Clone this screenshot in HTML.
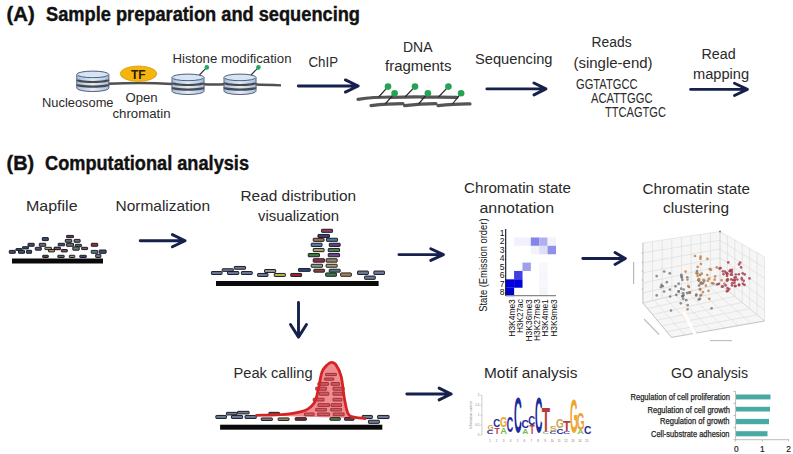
<!DOCTYPE html>
<html><head><meta charset="utf-8">
<style>
html,body{margin:0;padding:0;background:#fff;width:793px;height:454px;overflow:hidden}
svg{display:block}
svg{fill:#262626} text{font-family:"Liberation Sans",sans-serif}
.t{font-size:14.5px}
.b{font-weight:bold}
</style></head><body>
<svg width="793" height="454" viewBox="0 0 793 454">
<defs>
 <linearGradient id="dg" x1="0" x2="1" y1="0" y2="0">
  <stop offset="0" stop-color="#a6c0e0"/><stop offset="0.5" stop-color="#e2ecf8"/><stop offset="1" stop-color="#a6c0e0"/>
 </linearGradient>
 <g id="disk">
  <path d="M0,3.4 L0,17.2 A16,3.3 0 0 0 32,17.2 L32,3.4" fill="url(#dg)" stroke="#50607a" stroke-width="1"/>
  <ellipse cx="16" cy="3.4" rx="16" ry="3.3" fill="#d6e4f5" stroke="#50607a" stroke-width="1"/>
  <path d="M0.3,8.8 A15.7,2.2 0 0 0 31.7,8.8" fill="none" stroke="#4a4a4e" stroke-width="2.2"/>
  <path d="M0.3,13.4 A15.7,2.2 0 0 0 31.7,13.4" fill="none" stroke="#4a4a4e" stroke-width="2.2"/>
 </g>
 <g id="arr"><path d="M0,0 H58" stroke="#1b2a55" stroke-width="3" fill="none"/><path d="M45,-8 L60,0 L45,8" stroke="#1b2a55" stroke-width="3" fill="none"/></g>
</defs>

<text x="6.5" y="20.7" font-size="19.6" textLength="28.16" lengthAdjust="spacingAndGlyphs" class="b" fill="#111" stroke="#111" stroke-width="0.4">(A)</text>
<text x="46.0" y="20.7" font-size="19.6" textLength="314.01" lengthAdjust="spacingAndGlyphs" class="b" fill="#111" stroke="#111" stroke-width="0.4">Sample preparation and sequencing</text>
<text x="6.5" y="169.7" font-size="19.6" textLength="27.65" lengthAdjust="spacingAndGlyphs" class="b" fill="#111" stroke="#111" stroke-width="0.4">(B)</text>
<text x="45.0" y="169.7" font-size="19.6" textLength="204.01" lengthAdjust="spacingAndGlyphs" class="b" fill="#111" stroke="#111" stroke-width="0.4">Computational analysis</text>
<text x="42.0" y="107.1" font-size="12.6" textLength="71.52" lengthAdjust="spacingAndGlyphs" fill="#2a2a2a" >Nucleosome</text>
<text x="125.5" y="102.1" font-size="12.6" textLength="32.14" lengthAdjust="spacingAndGlyphs" fill="#2a2a2a" >Open</text>
<text x="112.5" y="118.4" font-size="12.6" textLength="58.03" lengthAdjust="spacingAndGlyphs" fill="#2a2a2a" >chromatin</text>
<text x="172.5" y="62.5" font-size="12.6" textLength="119.02" lengthAdjust="spacingAndGlyphs" fill="#2a2a2a" >Histone modification</text>
<text x="308.5" y="67.2" font-size="13.8" textLength="29.59" lengthAdjust="spacingAndGlyphs" fill="#2a2a2a" >ChIP</text>
<text x="403.0" y="51.8" font-size="13.8" textLength="29.53" lengthAdjust="spacingAndGlyphs" fill="#2a2a2a" >DNA</text>
<text x="385.0" y="71.2" font-size="13.8" textLength="66.52" lengthAdjust="spacingAndGlyphs" fill="#2a2a2a" >fragments</text>
<text x="475.0" y="63.5" font-size="13.8" textLength="77.55" lengthAdjust="spacingAndGlyphs" fill="#2a2a2a" >Sequencing</text>
<text x="591.5" y="47.2" font-size="13.8" textLength="40.07" lengthAdjust="spacingAndGlyphs" fill="#2a2a2a" >Reads</text>
<text x="573.5" y="68.1" font-size="13.8" textLength="79.05" lengthAdjust="spacingAndGlyphs" fill="#2a2a2a" >(single-end)</text>
<text x="576.0" y="88.5" font-size="13.8" textLength="61.52" lengthAdjust="spacingAndGlyphs" fill="#2a2a2a" >GGTATGCC</text>
<text x="591.0" y="102.5" font-size="13.8" textLength="61.51" lengthAdjust="spacingAndGlyphs" fill="#2a2a2a" >ACATTGGC</text>
<text x="605.0" y="116.5" font-size="13.8" textLength="61.02" lengthAdjust="spacingAndGlyphs" fill="#2a2a2a" >TTCAGTGC</text>
<text x="701.5" y="59" font-size="13.8" textLength="34.13" lengthAdjust="spacingAndGlyphs" fill="#2a2a2a" >Read</text>
<text x="693.0" y="78.7" font-size="13.8" textLength="56.05" lengthAdjust="spacingAndGlyphs" fill="#2a2a2a" >mapping</text>
<text x="26.0" y="211.4" font-size="13.8" textLength="51.56" lengthAdjust="spacingAndGlyphs" fill="#2a2a2a" >Mapfile</text>
<text x="115.5" y="211.4" font-size="13.8" textLength="94.53" lengthAdjust="spacingAndGlyphs" fill="#2a2a2a" >Normalization</text>
<text x="240.5" y="201.3" font-size="13.8" textLength="115.55" lengthAdjust="spacingAndGlyphs" fill="#2a2a2a" >Read distribution</text>
<text x="258.0" y="220.9" font-size="13.8" textLength="81.0" lengthAdjust="spacingAndGlyphs" fill="#2a2a2a" >visualization</text>
<text x="464.0" y="193.4" font-size="13.8" textLength="107.01" lengthAdjust="spacingAndGlyphs" fill="#2a2a2a" >Chromatin state</text>
<text x="479.5" y="212.8" font-size="13.8" textLength="74.53" lengthAdjust="spacingAndGlyphs" fill="#2a2a2a" >annotation</text>
<text x="642.5" y="193.7" font-size="13.8" textLength="107.52" lengthAdjust="spacingAndGlyphs" fill="#2a2a2a" >Chromatin state</text>
<text x="663.0" y="212.8" font-size="13.8" textLength="66.04" lengthAdjust="spacingAndGlyphs" fill="#2a2a2a" >clustering</text>
<text x="233.5" y="378.4" font-size="13.8" textLength="79.05" lengthAdjust="spacingAndGlyphs" fill="#2a2a2a" >Peak calling</text>
<text x="484.0" y="378.3" font-size="13.8" textLength="93.52" lengthAdjust="spacingAndGlyphs" fill="#2a2a2a" >Motif analysis</text>
<text x="671.0" y="377.7" font-size="13.8" textLength="77.03" lengthAdjust="spacingAndGlyphs" fill="#2a2a2a" >GO analysis</text>
<text x="630.5" y="400.1" font-size="8.8" textLength="99.52" lengthAdjust="spacingAndGlyphs" fill="#222" stroke="#222" stroke-width="0.25">Regulation of cell proliferation</text>
<text x="647.5" y="412.6" font-size="8.8" textLength="82.51" lengthAdjust="spacingAndGlyphs" fill="#222" stroke="#222" stroke-width="0.25">Regulation of cell growth</text>
<text x="660.0" y="424.4" font-size="8.8" textLength="69.53" lengthAdjust="spacingAndGlyphs" fill="#222" stroke="#222" stroke-width="0.25">Regulation of growth</text>
<text x="651.0" y="436.6" font-size="8.8" textLength="78.51" lengthAdjust="spacingAndGlyphs" fill="#222" stroke="#222" stroke-width="0.25">Cell-substrate adhesion</text>
<path d="M108,83.8 C125,83 150,82.6 172,84 M203,84.3 C212,84.6 218,84.6 224,84.3 M256,84.5 C265,84.7 272,85 281,85.4" stroke="#505050" stroke-width="2.4" fill="none"/>
<use href="#disk" x="76.8" y="71"/>
<use href="#disk" x="172" y="74"/>
<use href="#disk" x="224" y="74"/>
<ellipse cx="138.5" cy="73.7" rx="18.3" ry="7.7" fill="#f5b50e" stroke="#d49a10" stroke-width="0.8"/>
<text x="138.3" y="78.6" font-size="12" text-anchor="middle" class="b" fill="#2a1a00" >TF</text>
<path d="M199.4,75 L206.8,67.4 M251,75 L258.4,67.4" stroke="#333" stroke-width="1.1"/>
<circle cx="206.8" cy="67.4" r="2.3" fill="#1eaa60"/><circle cx="258.4" cy="67.4" r="2.3" fill="#1eaa60"/>
<g stroke="#555" stroke-width="3.2" fill="none" stroke-linecap="round"><path d="M358,99.3 C368,97.8 380,97 392,97"/><path d="M390,97.5 C402,97 414,96.8 424,97"/><path d="M422,97.2 C435,97 447,97 457,97.3"/><path d="M371,105.6 C382,104.4 392,103.7 403,103.7"/><path d="M404.5,105.6 C415,104.4 425,103.7 436,103.7"/><path d="M438,105.6 C449,104.4 459,103.7 470,103.9"/></g>
<path d="M378.7,97 L388,86.6 M405,97 L415,86.6 M438.5,97 L448.4,86.6 M385.2,104 L394.6,93.2 M418.5,104 L427.9,93.2 M452.5,104 L461.1,93.2" stroke="#2a2a2a" stroke-width="1.2"/>
<g fill="#22a355"><circle cx="388" cy="86.6" r="3.3"/><circle cx="394.6" cy="93.2" r="3.3"/><circle cx="415" cy="86.6" r="3.3"/><circle cx="427.9" cy="93.2" r="3.3"/><circle cx="448.4" cy="86.6" r="3.3"/><circle cx="461.1" cy="93.2" r="3.3"/></g>
<rect x="9.30" y="250.40" width="6.00" height="2.90" rx="0.4" fill="#3c4a6e" stroke="#1c1c26" stroke-width="1.0"/>
<rect x="15.90" y="248.60" width="6.00" height="1.90" rx="0.4" fill="#3c4a6e" stroke="#1c1c26" stroke-width="1.0"/>
<rect x="18.50" y="250.30" width="6.00" height="3.00" rx="0.4" fill="#3c4a6e" stroke="#1c1c26" stroke-width="1.0"/>
<rect x="22.50" y="246.70" width="6.00" height="2.20" rx="0.4" fill="#3c4a6e" stroke="#1c1c26" stroke-width="1.0"/>
<rect x="26.40" y="250.30" width="5.20" height="3.00" rx="0.4" fill="#3c4a6e" stroke="#1c1c26" stroke-width="1.0"/>
<rect x="28.00" y="243.30" width="6.20" height="3.00" rx="0.4" fill="#3c4a6e" stroke="#1c1c26" stroke-width="1.0"/>
<rect x="35.30" y="247.30" width="6.00" height="2.90" rx="0.4" fill="#5a4a7a" stroke="#1c1c26" stroke-width="1.0"/>
<rect x="39.30" y="243.30" width="6.40" height="3.00" rx="0.4" fill="#6a6a74" stroke="#1c1c26" stroke-width="1.0"/>
<rect x="42.30" y="237.60" width="6.00" height="3.00" rx="0.4" fill="#3c4a6e" stroke="#1c1c26" stroke-width="1.0"/>
<rect x="44.90" y="247.30" width="6.50" height="2.30" rx="0.4" fill="#a09860" stroke="#1c1c26" stroke-width="1.0"/>
<rect x="48.50" y="249.50" width="6.00" height="2.40" rx="0.4" fill="#a09860" stroke="#1c1c26" stroke-width="1.0"/>
<rect x="54.20" y="247.30" width="6.00" height="2.30" rx="0.4" fill="#7a5a44" stroke="#1c1c26" stroke-width="1.0"/>
<rect x="58.20" y="243.30" width="6.50" height="2.50" rx="0.4" fill="#3c4a6e" stroke="#1c1c26" stroke-width="1.0"/>
<rect x="42.70" y="255.30" width="5.60" height="2.20" rx="0.4" fill="#6a3a4a" stroke="#1c1c26" stroke-width="1.0"/>
<rect x="57.80" y="255.30" width="6.40" height="2.20" rx="0.4" fill="#4a7050" stroke="#1c1c26" stroke-width="1.0"/>
<rect x="66.60" y="235.40" width="6.90" height="2.20" rx="0.4" fill="#6a3a4a" stroke="#1c1c26" stroke-width="1.0"/>
<rect x="65.30" y="239.40" width="6.40" height="2.90" rx="0.4" fill="#6a6a74" stroke="#1c1c26" stroke-width="1.0"/>
<rect x="74.10" y="239.40" width="6.00" height="2.90" rx="0.4" fill="#6a6a74" stroke="#1c1c26" stroke-width="1.0"/>
<rect x="66.60" y="243.30" width="6.90" height="3.00" rx="0.4" fill="#6a6a74" stroke="#1c1c26" stroke-width="1.0"/>
<rect x="75.30" y="244.30" width="6.10" height="2.40" rx="0.4" fill="#4a7050" stroke="#1c1c26" stroke-width="1.0"/>
<rect x="91.30" y="243.30" width="6.40" height="3.00" rx="0.4" fill="#903040" stroke="#1c1c26" stroke-width="1.0"/>
<rect x="54.30" y="247.30" width="6.00" height="2.30" rx="0.4" fill="#7a5a44" stroke="#1c1c26" stroke-width="1.0"/>
<rect x="61.30" y="249.50" width="6.00" height="2.40" rx="0.4" fill="#7a5a44" stroke="#1c1c26" stroke-width="1.0"/>
<rect x="72.80" y="246.90" width="6.40" height="3.30" rx="0.4" fill="#6a7a70" stroke="#1c1c26" stroke-width="1.0"/>
<rect x="81.60" y="247.30" width="6.00" height="2.30" rx="0.4" fill="#7a5a44" stroke="#1c1c26" stroke-width="1.0"/>
<rect x="91.30" y="250.40" width="6.40" height="2.90" rx="0.4" fill="#5a7a88" stroke="#1c1c26" stroke-width="1.0"/>
<rect x="99.20" y="250.00" width="6.90" height="3.30" rx="0.4" fill="#3c4a6e" stroke="#1c1c26" stroke-width="1.0"/>
<rect x="95.70" y="254.30" width="5.10" height="3.20" rx="0.4" fill="#6a7090" stroke="#1c1c26" stroke-width="1.0"/>
<rect x="69.30" y="255.30" width="5.50" height="2.20" rx="0.4" fill="#a09860" stroke="#1c1c26" stroke-width="1.0"/>
<rect x="79.80" y="255.30" width="6.50" height="2.20" rx="0.4" fill="#3c4a6e" stroke="#1c1c26" stroke-width="1.0"/>
<rect x="12" y="258.5" width="91" height="5" fill="#0a0a0a"/>
<rect x="211.45" y="271.55" width="10.60" height="2.90" rx="0.5" fill="#6b7b98" stroke="#1c1c26" stroke-width="1.0"/>
<rect x="222.25" y="268.75" width="11.00" height="2.60" rx="0.5" fill="#6b7b98" stroke="#1c1c26" stroke-width="1.0"/>
<rect x="234.25" y="266.45" width="11.30" height="2.80" rx="0.5" fill="#6b7b98" stroke="#1c1c26" stroke-width="1.0"/>
<rect x="227.55" y="271.55" width="11.20" height="2.90" rx="0.5" fill="#6b7b98" stroke="#1c1c26" stroke-width="1.0"/>
<rect x="241.45" y="271.55" width="10.80" height="2.90" rx="0.5" fill="#6b7b98" stroke="#1c1c26" stroke-width="1.0"/>
<rect x="257.65" y="273.45" width="10.30" height="3.00" rx="0.5" fill="#647ba3" stroke="#1c1c26" stroke-width="1.0"/>
<rect x="264.55" y="269.55" width="11.10" height="2.90" rx="0.5" fill="#a296a2" stroke="#1c1c26" stroke-width="1.0"/>
<rect x="274.25" y="273.45" width="11.10" height="3.00" rx="0.5" fill="#b7b744" stroke="#1c1c26" stroke-width="1.0"/>
<rect x="290.75" y="273.45" width="10.80" height="3.00" rx="0.5" fill="#a2232e" stroke="#1c1c26" stroke-width="1.0"/>
<rect x="298.45" y="268.55" width="11.80" height="2.80" rx="0.5" fill="#2e467f" stroke="#1c1c26" stroke-width="1.0"/>
<rect x="321.55" y="229.25" width="11.00" height="3.10" rx="0.5" fill="#8e3d5f" stroke="#1c1c26" stroke-width="1.0"/>
<rect x="317.95" y="234.45" width="11.50" height="3.00" rx="0.5" fill="#463a74" stroke="#1c1c26" stroke-width="1.0"/>
<rect x="313.25" y="238.25" width="10.80" height="3.10" rx="0.5" fill="#a76e4b" stroke="#1c1c26" stroke-width="1.0"/>
<rect x="326.45" y="238.25" width="11.10" height="3.10" rx="0.5" fill="#4b799c" stroke="#1c1c26" stroke-width="1.0"/>
<rect x="311.25" y="243.25" width="10.80" height="3.20" rx="0.5" fill="#587ba9" stroke="#1c1c26" stroke-width="1.0"/>
<rect x="329.25" y="243.25" width="10.90" height="3.20" rx="0.5" fill="#5f3d8e" stroke="#1c1c26" stroke-width="1.0"/>
<rect x="313.25" y="248.45" width="10.80" height="3.20" rx="0.5" fill="#b1a05a" stroke="#1c1c26" stroke-width="1.0"/>
<rect x="328.25" y="248.45" width="11.30" height="3.20" rx="0.5" fill="#478147" stroke="#1c1c26" stroke-width="1.0"/>
<rect x="308.25" y="253.55" width="11.20" height="3.20" rx="0.5" fill="#3a7f3a" stroke="#1c1c26" stroke-width="1.0"/>
<rect x="328.25" y="253.55" width="11.30" height="3.20" rx="0.5" fill="#6c4a8f" stroke="#1c1c26" stroke-width="1.0"/>
<rect x="313.25" y="258.75" width="11.20" height="3.40" rx="0.5" fill="#983047" stroke="#1c1c26" stroke-width="1.0"/>
<rect x="326.15" y="258.75" width="11.00" height="3.40" rx="0.5" fill="#9e8764" stroke="#1c1c26" stroke-width="1.0"/>
<rect x="311.25" y="264.25" width="11.30" height="3.00" rx="0.5" fill="#89a089" stroke="#1c1c26" stroke-width="1.0"/>
<rect x="326.15" y="264.25" width="11.00" height="3.00" rx="0.5" fill="#a5a066" stroke="#1c1c26" stroke-width="1.0"/>
<rect x="313.85" y="269.25" width="10.60" height="2.90" rx="0.5" fill="#8c473b" stroke="#1c1c26" stroke-width="1.0"/>
<rect x="329.25" y="269.25" width="10.90" height="2.90" rx="0.5" fill="#567984" stroke="#1c1c26" stroke-width="1.0"/>
<rect x="325.65" y="272.95" width="10.80" height="3.30" rx="0.5" fill="#3b8046" stroke="#1c1c26" stroke-width="1.0"/>
<rect x="340.65" y="272.95" width="10.70" height="3.30" rx="0.5" fill="#a9864c" stroke="#1c1c26" stroke-width="1.0"/>
<rect x="357.55" y="271.05" width="10.80" height="3.40" rx="0.5" fill="#6b7b98" stroke="#1c1c26" stroke-width="1.0"/>
<rect x="364.65" y="276.05" width="10.60" height="3.30" rx="0.5" fill="#6b7b98" stroke="#1c1c26" stroke-width="1.0"/>
<rect x="373.85" y="271.05" width="10.60" height="3.40" rx="0.5" fill="#6b7b98" stroke="#1c1c26" stroke-width="1.0"/>
<rect x="216" y="281" width="162.6" height="5" fill="#0a0a0a"/>
<rect x="514.08" y="237.47" width="8.43" height="8.42" fill="#f1f1fb"/>
<rect x="522.46" y="237.47" width="8.43" height="8.42" fill="#f1f1fb"/>
<rect x="530.84" y="237.47" width="8.43" height="8.42" fill="#8585e8"/>
<rect x="539.22" y="237.47" width="8.43" height="8.42" fill="#b0b0f0"/>
<rect x="547.60" y="237.47" width="8.43" height="8.42" fill="#f3f3fb"/>
<rect x="530.84" y="245.84" width="8.43" height="8.42" fill="#f3f3fb"/>
<rect x="539.22" y="245.84" width="8.43" height="8.42" fill="#dedef6"/>
<rect x="547.60" y="245.84" width="8.43" height="8.42" fill="#9090ea"/>
<rect x="522.46" y="262.58" width="8.43" height="8.42" fill="#a0a0ea"/>
<rect x="514.08" y="270.95" width="8.43" height="8.42" fill="#4040e2"/>
<rect x="505.70" y="279.32" width="8.43" height="8.42" fill="#0000dc"/>
<rect x="514.08" y="279.32" width="8.43" height="8.42" fill="#0000dc"/>
<rect x="505.70" y="287.69" width="8.43" height="8.42" fill="#0000cf"/>
<rect x="539.22" y="262.58" width="8.43" height="8.42" fill="#f7f7fc"/>
<rect x="539.22" y="270.95" width="8.43" height="8.42" fill="#f6f6fc"/>
<rect x="539.22" y="279.32" width="8.43" height="8.42" fill="#f7f7fc"/>
<rect x="539.22" y="287.69" width="8.43" height="8.42" fill="#f4f4fb"/>
<path d="M505.7,229.1 V296" stroke="#111" stroke-width="1.1" fill="none"/><path d="M505.7,295.6 H556" stroke="#888" stroke-width="1.1" fill="none"/>
<text x="504.6" y="236.0" font-size="8.6" text-anchor="end" fill="#111" >1</text>
<text x="504.6" y="244.45" font-size="8.6" text-anchor="end" fill="#111" >2</text>
<text x="504.6" y="252.9" font-size="8.6" text-anchor="end" fill="#111" >3</text>
<text x="504.6" y="261.35" font-size="8.6" text-anchor="end" fill="#111" >4</text>
<text x="504.6" y="269.8" font-size="8.6" text-anchor="end" fill="#111" >5</text>
<text x="504.6" y="278.25" font-size="8.6" text-anchor="end" fill="#111" >6</text>
<text x="504.6" y="286.7" font-size="8.6" text-anchor="end" fill="#111" >7</text>
<text x="504.6" y="295.15" font-size="8.6" text-anchor="end" fill="#111" >8</text>
<text transform="translate(515.10,299.2) rotate(-90)" x="0" y="0" font-size="8.4" text-anchor="end" textLength="37.5" lengthAdjust="spacingAndGlyphs" fill="#111">H3K4me3</text>
<text transform="translate(523.00,299.2) rotate(-90)" x="0" y="0" font-size="8.4" text-anchor="end" textLength="33.9" lengthAdjust="spacingAndGlyphs" fill="#111">H3K27ac</text>
<text transform="translate(531.70,299.2) rotate(-90)" x="0" y="0" font-size="8.4" text-anchor="end" textLength="42.3" lengthAdjust="spacingAndGlyphs" fill="#111">H3K36me3</text>
<text transform="translate(540.00,299.2) rotate(-90)" x="0" y="0" font-size="8.4" text-anchor="end" textLength="41.8" lengthAdjust="spacingAndGlyphs" fill="#111">H3K27me3</text>
<text transform="translate(548.40,299.2) rotate(-90)" x="0" y="0" font-size="8.4" text-anchor="end" textLength="37.5" lengthAdjust="spacingAndGlyphs" fill="#111">H3K4me1</text>
<text transform="translate(556.70,299.2) rotate(-90)" x="0" y="0" font-size="8.4" text-anchor="end" textLength="37.6" lengthAdjust="spacingAndGlyphs" fill="#111">H3K9me3</text>
<text transform="translate(487.3,218.5) rotate(-90)" x="0" y="0" font-size="10.2" text-anchor="end" textLength="93.3" lengthAdjust="spacingAndGlyphs" fill="#111">State (Emission order)</text>
<polygon points="642.9,242.9 720,231.5 720,284 642.9,303" fill="#f6f6f6"/>
<polygon points="720,231.5 764.5,257 764.5,321 720,284" fill="#f6f6f6"/>
<polygon points="642.9,303 720,284 764.5,321 671.5,337.4" fill="#f6f6f6"/>
<path d="M642.9,242.9 L642.9,303.0 M652.5,241.5 L652.5,300.6 M662.2,240.1 L662.2,298.2 M671.8,238.6 L671.8,295.9 M681.5,237.2 L681.5,293.5 M691.1,235.8 L691.1,291.1 M700.7,234.3 L700.7,288.8 M710.4,232.9 L710.4,286.4 M720.0,231.5 L720.0,284.0 M642.9,242.9 L720.0,231.5 M642.9,252.9 L720.0,240.2 M642.9,262.9 L720.0,249.0 M642.9,272.9 L720.0,257.8 M642.9,283.0 L720.0,266.5 M642.9,293.0 L720.0,275.2 M642.9,303.0 L720.0,284.0 M720.0,231.5 L720.0,284.0 M727.4,235.8 L727.4,290.2 M734.8,240.0 L734.8,296.3 M742.2,244.2 L742.2,302.5 M749.7,248.5 L749.7,308.7 M757.1,252.8 L757.1,314.8 M764.5,257.0 L764.5,321.0 M720.0,231.5 L764.5,257.0 M720.0,240.2 L764.5,267.7 M720.0,249.0 L764.5,278.3 M720.0,257.8 L764.5,289.0 M720.0,266.5 L764.5,299.7 M720.0,275.2 L764.5,310.3 M720.0,284.0 L764.5,321.0 M642.9,303.0 L671.5,337.4 M653.9,300.3 L684.8,335.1 M664.9,297.6 L698.1,332.7 M675.9,294.9 L711.4,330.4 M687.0,292.1 L724.6,328.0 M698.0,289.4 L737.9,325.7 M709.0,286.7 L751.2,323.3 M720.0,284.0 L764.5,321.0 M642.9,303.0 L720.0,284.0 M647.7,308.7 L727.4,290.2 M652.4,314.5 L734.8,296.3 M657.2,320.2 L742.2,302.5 M662.0,325.9 L749.7,308.7 M666.7,331.7 L757.1,314.8 M671.5,337.4 L764.5,321.0" stroke="#d6d6d6" stroke-width="0.55" fill="none"/>
<path d="M642.9,242.9 V303 L671.5,337.4 L764.5,321" stroke="#b0b0b0" stroke-width="0.6" fill="none"/>
<path d="M642.9,253 h-1.2 M642.9,262 h-1.2 M642.9,271 h-1.2 M642.9,280 h-1.2 M642.9,289 h-1.2" stroke="#888" stroke-width="0.6"/>
<path d="M683.5,312 L695.5,335" stroke="#fff" stroke-width="3"/>
<circle cx="664.1" cy="291.5" r="1.35" fill="#6c6c6c" opacity="0.75"/>
<circle cx="698.9" cy="280.8" r="1.35" fill="#6c6c6c" opacity="0.75"/>
<circle cx="662.7" cy="286.2" r="1.35" fill="#6c6c6c" opacity="0.75"/>
<circle cx="686.2" cy="300.2" r="1.35" fill="#6c6c6c" opacity="0.75"/>
<circle cx="664.2" cy="271.5" r="1.35" fill="#6c6c6c" opacity="0.75"/>
<circle cx="689.2" cy="292.7" r="1.35" fill="#6c6c6c" opacity="0.75"/>
<circle cx="699.9" cy="298.8" r="1.35" fill="#6c6c6c" opacity="0.75"/>
<circle cx="678.7" cy="283.7" r="1.35" fill="#6c6c6c" opacity="0.75"/>
<circle cx="713.4" cy="283.5" r="1.35" fill="#6c6c6c" opacity="0.75"/>
<circle cx="669.8" cy="273.3" r="1.35" fill="#6c6c6c" opacity="0.75"/>
<circle cx="681.2" cy="288.7" r="1.35" fill="#6c6c6c" opacity="0.75"/>
<circle cx="675.5" cy="286.3" r="1.35" fill="#6c6c6c" opacity="0.75"/>
<circle cx="683.6" cy="295.3" r="1.35" fill="#6c6c6c" opacity="0.75"/>
<circle cx="700.3" cy="289.5" r="1.35" fill="#6c6c6c" opacity="0.75"/>
<circle cx="656.7" cy="295.4" r="1.35" fill="#6c6c6c" opacity="0.75"/>
<circle cx="661.5" cy="284.9" r="1.35" fill="#6c6c6c" opacity="0.75"/>
<circle cx="660.8" cy="287.0" r="1.35" fill="#6c6c6c" opacity="0.75"/>
<circle cx="669.9" cy="289.6" r="1.35" fill="#6c6c6c" opacity="0.75"/>
<circle cx="722.9" cy="286.4" r="1.35" fill="#6c6c6c" opacity="0.75"/>
<circle cx="697.0" cy="271.1" r="1.35" fill="#6c6c6c" opacity="0.75"/>
<circle cx="676.3" cy="294.9" r="1.35" fill="#6c6c6c" opacity="0.75"/>
<circle cx="678.8" cy="291.4" r="1.35" fill="#6c6c6c" opacity="0.75"/>
<circle cx="681.3" cy="274.9" r="1.35" fill="#6c6c6c" opacity="0.75"/>
<circle cx="687.3" cy="277.3" r="1.35" fill="#6c6c6c" opacity="0.75"/>
<circle cx="704.3" cy="280.9" r="1.35" fill="#6c6c6c" opacity="0.75"/>
<circle cx="688.9" cy="287.0" r="1.35" fill="#6c6c6c" opacity="0.75"/>
<circle cx="698.4" cy="279.8" r="1.35" fill="#6c6c6c" opacity="0.75"/>
<circle cx="699.0" cy="285.5" r="1.35" fill="#6c6c6c" opacity="0.75"/>
<circle cx="696.4" cy="294.5" r="1.35" fill="#6c6c6c" opacity="0.75"/>
<circle cx="681.8" cy="277.6" r="1.35" fill="#6c6c6c" opacity="0.75"/>
<circle cx="690.0" cy="292.6" r="1.35" fill="#6c6c6c" opacity="0.75"/>
<circle cx="701.3" cy="282.5" r="1.35" fill="#6c6c6c" opacity="0.75"/>
<circle cx="687.2" cy="293.1" r="1.35" fill="#6c6c6c" opacity="0.75"/>
<circle cx="683.7" cy="289.5" r="1.35" fill="#6c6c6c" opacity="0.75"/>
<circle cx="682.4" cy="279.8" r="1.35" fill="#6c6c6c" opacity="0.75"/>
<circle cx="666.8" cy="282.2" r="1.35" fill="#6c6c6c" opacity="0.75"/>
<circle cx="687.7" cy="305.1" r="1.35" fill="#6c6c6c" opacity="0.75"/>
<circle cx="698.7" cy="299.6" r="1.35" fill="#6c6c6c" opacity="0.75"/>
<circle cx="696.1" cy="295.4" r="1.35" fill="#6c6c6c" opacity="0.75"/>
<circle cx="682.4" cy="296.3" r="1.35" fill="#6c6c6c" opacity="0.75"/>
<circle cx="703.1" cy="283.1" r="1.35" fill="#6c6c6c" opacity="0.75"/>
<circle cx="671.0" cy="310.5" r="1.35" fill="#6c6c6c" opacity="0.75"/>
<circle cx="683.2" cy="298.7" r="1.35" fill="#6c6c6c" opacity="0.75"/>
<circle cx="697.4" cy="273.4" r="1.35" fill="#6c6c6c" opacity="0.75"/>
<circle cx="711.6" cy="308.3" r="1.35" fill="#6c6c6c" opacity="0.75"/>
<circle cx="682.3" cy="296.0" r="1.35" fill="#6c6c6c" opacity="0.75"/>
<circle cx="681.6" cy="276.4" r="1.35" fill="#6c6c6c" opacity="0.75"/>
<circle cx="678.5" cy="291.5" r="1.35" fill="#6c6c6c" opacity="0.75"/>
<circle cx="700.5" cy="295.5" r="1.35" fill="#6c6c6c" opacity="0.75"/>
<circle cx="680.8" cy="303.3" r="1.35" fill="#6c6c6c" opacity="0.75"/>
<circle cx="670.1" cy="296.5" r="1.35" fill="#6c6c6c" opacity="0.75"/>
<circle cx="700.5" cy="283.5" r="1.35" fill="#6c6c6c" opacity="0.75"/>
<circle cx="656.7" cy="276.1" r="1.35" fill="#6c6c6c" opacity="0.75"/>
<circle cx="683.1" cy="293.3" r="1.35" fill="#6c6c6c" opacity="0.75"/>
<circle cx="700.1" cy="274.9" r="1.35" fill="#6c6c6c" opacity="0.75"/>
<circle cx="702.0" cy="283.8" r="1.35" fill="#c07c3c" opacity="0.8"/>
<circle cx="700.6" cy="256.7" r="1.35" fill="#c07c3c" opacity="0.8"/>
<circle cx="709.3" cy="298.8" r="1.35" fill="#c07c3c" opacity="0.8"/>
<circle cx="711.0" cy="269.7" r="1.35" fill="#c07c3c" opacity="0.8"/>
<circle cx="698.3" cy="280.0" r="1.35" fill="#c07c3c" opacity="0.8"/>
<circle cx="724.4" cy="283.6" r="1.35" fill="#c07c3c" opacity="0.8"/>
<circle cx="703.0" cy="292.0" r="1.35" fill="#c07c3c" opacity="0.8"/>
<circle cx="701.3" cy="294.8" r="1.35" fill="#c07c3c" opacity="0.8"/>
<circle cx="701.8" cy="273.7" r="1.35" fill="#c07c3c" opacity="0.8"/>
<circle cx="708.5" cy="290.8" r="1.35" fill="#c07c3c" opacity="0.8"/>
<circle cx="707.9" cy="280.7" r="1.35" fill="#c07c3c" opacity="0.8"/>
<circle cx="685.6" cy="271.6" r="1.35" fill="#c07c3c" opacity="0.8"/>
<circle cx="696.5" cy="273.2" r="1.35" fill="#c07c3c" opacity="0.8"/>
<circle cx="707.3" cy="275.0" r="1.35" fill="#c07c3c" opacity="0.8"/>
<circle cx="709.1" cy="278.7" r="1.35" fill="#c07c3c" opacity="0.8"/>
<circle cx="699.0" cy="279.1" r="1.35" fill="#c07c3c" opacity="0.8"/>
<circle cx="705.9" cy="285.7" r="1.35" fill="#c07c3c" opacity="0.8"/>
<circle cx="697.7" cy="275.9" r="1.35" fill="#c07c3c" opacity="0.8"/>
<circle cx="689.7" cy="292.4" r="1.35" fill="#c07c3c" opacity="0.8"/>
<circle cx="715.1" cy="276.4" r="1.35" fill="#c07c3c" opacity="0.8"/>
<circle cx="697.7" cy="266.9" r="1.35" fill="#c07c3c" opacity="0.8"/>
<circle cx="703.5" cy="279.9" r="1.35" fill="#c07c3c" opacity="0.8"/>
<circle cx="721.6" cy="280.2" r="1.35" fill="#c07c3c" opacity="0.8"/>
<circle cx="695.0" cy="256.0" r="1.35" fill="#c07c3c" opacity="0.8"/>
<circle cx="714.7" cy="279.7" r="1.35" fill="#c07c3c" opacity="0.8"/>
<circle cx="687.5" cy="279.6" r="1.35" fill="#c07c3c" opacity="0.8"/>
<circle cx="687.5" cy="309.3" r="1.35" fill="#c07c3c" opacity="0.8"/>
<circle cx="712.1" cy="283.2" r="1.35" fill="#c07c3c" opacity="0.8"/>
<circle cx="700.4" cy="258.7" r="1.35" fill="#c07c3c" opacity="0.8"/>
<circle cx="700.9" cy="264.0" r="1.35" fill="#c07c3c" opacity="0.8"/>
<circle cx="707.4" cy="258.8" r="1.35" fill="#c07c3c" opacity="0.8"/>
<circle cx="699.8" cy="289.0" r="1.35" fill="#c07c3c" opacity="0.8"/>
<circle cx="716.8" cy="267.4" r="1.35" fill="#c07c3c" opacity="0.8"/>
<circle cx="688.2" cy="285.9" r="1.35" fill="#c07c3c" opacity="0.8"/>
<circle cx="709.7" cy="269.1" r="1.35" fill="#c07c3c" opacity="0.8"/>
<circle cx="727.4" cy="274.1" r="1.35" fill="#a83a4a" opacity="0.8"/>
<circle cx="723.5" cy="274.2" r="1.35" fill="#a83a4a" opacity="0.8"/>
<circle cx="743.0" cy="283.8" r="1.35" fill="#a83a4a" opacity="0.8"/>
<circle cx="749.5" cy="278.4" r="1.35" fill="#a83a4a" opacity="0.8"/>
<circle cx="731.9" cy="272.1" r="1.35" fill="#a83a4a" opacity="0.8"/>
<circle cx="732.0" cy="269.8" r="1.35" fill="#a83a4a" opacity="0.8"/>
<circle cx="718.8" cy="283.9" r="1.35" fill="#a83a4a" opacity="0.8"/>
<circle cx="744.5" cy="284.9" r="1.35" fill="#a83a4a" opacity="0.8"/>
<circle cx="743.7" cy="280.8" r="1.35" fill="#a83a4a" opacity="0.8"/>
<circle cx="727.3" cy="279.6" r="1.35" fill="#a83a4a" opacity="0.8"/>
<circle cx="730.0" cy="271.2" r="1.35" fill="#a83a4a" opacity="0.8"/>
<circle cx="719.5" cy="268.6" r="1.35" fill="#a83a4a" opacity="0.8"/>
<circle cx="733.0" cy="280.1" r="1.35" fill="#a83a4a" opacity="0.8"/>
<circle cx="729.2" cy="289.0" r="1.35" fill="#a83a4a" opacity="0.8"/>
<circle cx="734.4" cy="283.1" r="1.35" fill="#a83a4a" opacity="0.8"/>
<circle cx="742.7" cy="273.3" r="1.35" fill="#a83a4a" opacity="0.8"/>
<circle cx="717.2" cy="284.3" r="1.35" fill="#a83a4a" opacity="0.8"/>
<circle cx="727.5" cy="288.2" r="1.35" fill="#a83a4a" opacity="0.8"/>
<circle cx="735.7" cy="286.0" r="1.35" fill="#a83a4a" opacity="0.8"/>
<circle cx="739.1" cy="264.4" r="1.35" fill="#a83a4a" opacity="0.8"/>
<circle cx="738.8" cy="274.3" r="1.35" fill="#a83a4a" opacity="0.8"/>
<circle cx="727.0" cy="276.0" r="1.35" fill="#a83a4a" opacity="0.8"/>
<circle cx="739.1" cy="285.2" r="1.35" fill="#a83a4a" opacity="0.8"/>
<circle cx="741.1" cy="267.4" r="1.35" fill="#a83a4a" opacity="0.8"/>
<circle cx="728.3" cy="262.4" r="1.35" fill="#a83a4a" opacity="0.8"/>
<circle cx="732.2" cy="283.2" r="1.35" fill="#a83a4a" opacity="0.8"/>
<circle cx="726.9" cy="280.7" r="1.35" fill="#a83a4a" opacity="0.8"/>
<circle cx="734.9" cy="286.1" r="1.35" fill="#a83a4a" opacity="0.8"/>
<circle cx="726.4" cy="273.2" r="1.35" fill="#a83a4a" opacity="0.8"/>
<circle cx="726.9" cy="291.3" r="1.35" fill="#a83a4a" opacity="0.8"/>
<circle cx="741.7" cy="278.1" r="1.35" fill="#a83a4a" opacity="0.8"/>
<circle cx="734.8" cy="279.8" r="1.35" fill="#a83a4a" opacity="0.8"/>
<circle cx="734.6" cy="277.5" r="1.35" fill="#a83a4a" opacity="0.8"/>
<circle cx="730.3" cy="270.2" r="1.35" fill="#a83a4a" opacity="0.8"/>
<circle cx="727.9" cy="290.6" r="1.35" fill="#a83a4a" opacity="0.8"/>
<circle cx="737.3" cy="279.5" r="1.35" fill="#a83a4a" opacity="0.8"/>
<circle cx="731.3" cy="279.4" r="1.35" fill="#a83a4a" opacity="0.8"/>
<circle cx="735.8" cy="274.5" r="1.35" fill="#a83a4a" opacity="0.8"/>
<circle cx="734.6" cy="280.7" r="1.35" fill="#a83a4a" opacity="0.8"/>
<circle cx="727.0" cy="273.5" r="1.35" fill="#a83a4a" opacity="0.8"/>
<circle cx="725.0" cy="271.6" r="1.35" fill="#a83a4a" opacity="0.8"/>
<circle cx="740.1" cy="262.5" r="1.35" fill="#a83a4a" opacity="0.8"/>
<circle cx="730.9" cy="274.7" r="1.35" fill="#a83a4a" opacity="0.8"/>
<circle cx="728.0" cy="279.7" r="1.35" fill="#a83a4a" opacity="0.8"/>
<circle cx="742.0" cy="279.5" r="1.35" fill="#a83a4a" opacity="0.8"/>
<circle cx="731.9" cy="274.7" r="1.35" fill="#a83a4a" opacity="0.8"/>
<circle cx="732.0" cy="285.4" r="1.35" fill="#a83a4a" opacity="0.8"/>
<circle cx="729.8" cy="271.0" r="1.35" fill="#a83a4a" opacity="0.8"/>
<circle cx="722.9" cy="271.3" r="1.35" fill="#a83a4a" opacity="0.8"/>
<circle cx="721.9" cy="286.7" r="1.35" fill="#a83a4a" opacity="0.8"/>
<circle cx="735.8" cy="277.3" r="1.35" fill="#a83a4a" opacity="0.8"/>
<circle cx="744.7" cy="274.4" r="1.35" fill="#a83a4a" opacity="0.8"/>
<circle cx="739.0" cy="284.6" r="1.35" fill="#a83a4a" opacity="0.8"/>
<circle cx="720.6" cy="268.1" r="1.35" fill="#a83a4a" opacity="0.8"/>
<circle cx="725.6" cy="285.3" r="1.35" fill="#a83a4a" opacity="0.8"/>
<circle cx="720" cy="231.5" r="0.9" fill="#777"/>
<rect x="633" y="262" width="1.2" height="22" fill="#b8b8b8"/>
<path d="M644,319 L659,334.5" stroke="#c0c0c0" stroke-width="1.2"/>
<rect x="710" y="340" width="22" height="1.2" fill="#c0c0c0"/>
<path d="M256.5,415.3 C261.25,415.13 276.92,415.10 285,414.3 C293.08,413.50 300.12,412.42 305,410.5 C309.88,408.58 312.12,406.15 314.3,402.8 C316.48,399.45 316.82,395.53 318.1,390.4 C319.38,385.27 320.48,376.25 322,372 C323.52,367.75 325.63,366.52 327.2,364.9 C328.77,363.28 329.93,362.30 331.4,362.3 C332.87,362.30 334.37,362.52 336,364.9 C337.63,367.28 339.82,371.08 341.2,376.6 C342.58,382.12 343.27,392.10 344.3,398 C345.33,403.90 346.23,408.90 347.4,412 C348.57,415.10 348.37,415.52 351.3,416.6 C354.23,417.68 362.72,418.18 365,418.5 Z" fill="#ee7075" opacity="0.8"/>
<rect x="215.85" y="415.45" width="10.60" height="3.00" rx="0.5" fill="#6b7b98" stroke="#1c1c26" stroke-width="1.0"/>
<rect x="226.45" y="412.35" width="10.60" height="2.60" rx="0.5" fill="#6b7b98" stroke="#1c1c26" stroke-width="1.0"/>
<rect x="237.55" y="411.35" width="11.60" height="2.50" rx="0.5" fill="#6b7b98" stroke="#1c1c26" stroke-width="1.0"/>
<rect x="231.45" y="415.45" width="11.10" height="3.00" rx="0.5" fill="#6b7b98" stroke="#1c1c26" stroke-width="1.0"/>
<rect x="245.05" y="415.45" width="11.20" height="3.00" rx="0.5" fill="#6b7b98" stroke="#1c1c26" stroke-width="1.0"/>
<rect x="261.25" y="417.95" width="11.10" height="2.50" rx="0.5" fill="#867580" stroke="#1c1c26" stroke-width="1.0"/>
<rect x="268.85" y="412.35" width="10.60" height="2.60" rx="0.5" fill="#803b46" stroke="#1c1c26" stroke-width="1.0"/>
<rect x="278.15" y="417.95" width="10.90" height="2.50" rx="0.5" fill="#a98759" stroke="#1c1c26" stroke-width="1.0"/>
<rect x="295.25" y="417.65" width="11.10" height="2.60" rx="0.5" fill="#7f2e39" stroke="#1c1c26" stroke-width="1.0"/>
<rect x="329.95" y="417.65" width="10.30" height="2.60" rx="0.5" fill="#538148" stroke="#1c1c26" stroke-width="1.0"/>
<rect x="344.55" y="417.65" width="9.50" height="2.60" rx="0.5" fill="#803b46" stroke="#1c1c26" stroke-width="1.0"/>
<rect x="362.25" y="415.45" width="10.10" height="3.10" rx="0.5" fill="#6b7b98" stroke="#1c1c26" stroke-width="1.0"/>
<rect x="377.65" y="415.45" width="11.40" height="3.10" rx="0.5" fill="#6b7b98" stroke="#1c1c26" stroke-width="1.0"/>
<rect x="368.45" y="420.25" width="10.90" height="3.10" rx="0.5" fill="#6b7b98" stroke="#1c1c26" stroke-width="1.0"/>
<rect x="220.1" y="424.7" width="162.2" height="5" fill="#0a0a0a"/>
<rect x="325.57" y="373.38" width="10.85" height="2.25" rx="0.4" fill="#d8565e" stroke="#8a2a30" stroke-width="0.85"/>
<rect x="324.48" y="377.98" width="9.35" height="2.25" rx="0.4" fill="#d8565e" stroke="#8a2a30" stroke-width="0.85"/>
<rect x="317.88" y="382.57" width="10.55" height="2.75" rx="0.4" fill="#d8565e" stroke="#8a2a30" stroke-width="0.85"/>
<rect x="331.07" y="382.57" width="8.45" height="2.75" rx="0.4" fill="#d8565e" stroke="#8a2a30" stroke-width="0.85"/>
<rect x="315.68" y="387.18" width="10.75" height="3.05" rx="0.4" fill="#d8565e" stroke="#8a2a30" stroke-width="0.85"/>
<rect x="332.98" y="387.18" width="11.15" height="3.05" rx="0.4" fill="#d8565e" stroke="#8a2a30" stroke-width="0.85"/>
<rect x="319.38" y="392.18" width="9.35" height="3.05" rx="0.4" fill="#d8565e" stroke="#8a2a30" stroke-width="0.85"/>
<rect x="332.98" y="392.18" width="9.65" height="3.05" rx="0.4" fill="#d8565e" stroke="#8a2a30" stroke-width="0.85"/>
<rect x="313.18" y="398.28" width="10.95" height="2.75" rx="0.4" fill="#d8565e" stroke="#8a2a30" stroke-width="0.85"/>
<rect x="332.98" y="398.28" width="8.85" height="2.75" rx="0.4" fill="#d8565e" stroke="#8a2a30" stroke-width="0.85"/>
<rect x="317.88" y="403.68" width="11.65" height="2.75" rx="0.4" fill="#d8565e" stroke="#8a2a30" stroke-width="0.85"/>
<rect x="331.07" y="403.68" width="10.45" height="2.75" rx="0.4" fill="#d8565e" stroke="#8a2a30" stroke-width="0.85"/>
<rect x="315.68" y="408.38" width="10.75" height="2.65" rx="0.4" fill="#d8565e" stroke="#8a2a30" stroke-width="0.85"/>
<rect x="330.68" y="408.38" width="10.85" height="2.65" rx="0.4" fill="#d8565e" stroke="#8a2a30" stroke-width="0.85"/>
<rect x="304.48" y="412.98" width="9.65" height="2.75" rx="0.4" fill="#d8565e" stroke="#8a2a30" stroke-width="0.85"/>
<rect x="317.57" y="412.98" width="11.95" height="2.75" rx="0.4" fill="#d8565e" stroke="#8a2a30" stroke-width="0.85"/>
<rect x="333.18" y="412.98" width="10.95" height="2.75" rx="0.4" fill="#d8565e" stroke="#8a2a30" stroke-width="0.85"/>
<path d="M256.5,415.3 C261.25,415.13 276.92,415.10 285,414.3 C293.08,413.50 300.12,412.42 305,410.5 C309.88,408.58 312.12,406.15 314.3,402.8 C316.48,399.45 316.82,395.53 318.1,390.4 C319.38,385.27 320.48,376.25 322,372 C323.52,367.75 325.63,366.52 327.2,364.9 C328.77,363.28 329.93,362.30 331.4,362.3 C332.87,362.30 334.37,362.52 336,364.9 C337.63,367.28 339.82,371.08 341.2,376.6 C342.58,382.12 343.27,392.10 344.3,398 C345.33,403.90 346.23,408.90 347.4,412 C348.57,415.10 348.37,415.52 351.3,416.6 C354.23,417.68 362.72,418.18 365,418.5" fill="none" stroke="#d42424" stroke-width="2.8" stroke-linecap="round"/>
<path d="M481.9,395.3 V434.9" stroke="#999" stroke-width="0.5"/>
<path d="M480.5,395.3 H481.9" stroke="#999" stroke-width="0.5"/>
<text x="479.5" y="396.3" font-size="3" text-anchor="end" fill="#777">2</text>
<path d="M480.5,405.2 H481.9" stroke="#999" stroke-width="0.5"/>
<text x="479.5" y="406.2" font-size="3" text-anchor="end" fill="#777">1.5</text>
<path d="M480.5,415.1 H481.9" stroke="#999" stroke-width="0.5"/>
<text x="479.5" y="416.1" font-size="3" text-anchor="end" fill="#777">1</text>
<path d="M480.5,425.0 H481.9" stroke="#999" stroke-width="0.5"/>
<text x="479.5" y="426.0" font-size="3" text-anchor="end" fill="#777">0.5</text>
<path d="M480.5,434.9 H481.9" stroke="#999" stroke-width="0.5"/>
<text x="479.5" y="435.9" font-size="3" text-anchor="end" fill="#777">0</text>
<text transform="translate(471.5,415) rotate(-90)" font-size="3.2" text-anchor="middle" fill="#777">Information content</text>
<text transform="translate(487.58,429.73) scale(0.785,0.678)" font-size="10" font-weight="bold" fill="#c9a456">G</text>
<text transform="translate(486.82,433.64) scale(0.917,0.551)" font-size="10" font-weight="bold" fill="#1e2a9a">C</text>
<text transform="translate(493.31,427.29) scale(0.963,1.088)" font-size="10" font-weight="bold" fill="#1e2a9a">C</text>
<text transform="translate(494.41,433.70) scale(0.849,0.916)" font-size="10" font-weight="bold" fill="#b83a3a">T</text>
<text transform="translate(500.12,427.25) scale(0.933,1.497)" font-size="10" font-weight="bold" fill="#eaa632">G</text>
<text transform="translate(500.27,433.70) scale(0.939,0.887)" font-size="10" font-weight="bold" fill="#7cb84a">A</text>
<text transform="translate(506.84,432.48) scale(0.887,2.189)" font-size="10" font-weight="bold" fill="#1e2a9a">C</text>
<text transform="translate(514.05,433.19) scale(1.086,5.056)" font-size="10" font-weight="bold" fill="#1e2a9a">C</text>
<text transform="translate(521.47,428.28) scale(1.040,1.158)" font-size="10" font-weight="bold" fill="#1e2a9a">C</text>
<text transform="translate(522.29,433.70) scale(0.849,0.770)" font-size="10" font-weight="bold" fill="#7cb84a">A</text>
<text transform="translate(528.31,424.88) scale(0.963,1.229)" font-size="10" font-weight="bold" fill="#1e2a9a">C</text>
<text transform="translate(529.41,433.70) scale(0.849,1.265)" font-size="10" font-weight="bold" fill="#b83a3a">T</text>
<text transform="translate(535.08,433.19) scale(1.024,5.056)" font-size="10" font-weight="bold" fill="#1e2a9a">C</text>
<text transform="translate(541.85,431.80) scale(1.358,3.459)" font-size="10" font-weight="bold" fill="#b83a3a">T</text>
<text transform="translate(542.62,433.67) scale(0.917,0.268)" font-size="10" font-weight="bold" fill="#7cb84a">C</text>
<text transform="translate(549.69,430.73) scale(1.052,0.678)" font-size="10" font-weight="bold" fill="#c9a456">S</text>
<text transform="translate(549.61,433.66) scale(0.963,0.410)" font-size="10" font-weight="bold" fill="#1e2a9a">C</text>
<text transform="translate(555.99,427.77) scale(0.993,1.299)" font-size="10" font-weight="bold" fill="#c9a456">G</text>
<text transform="translate(556.41,433.63) scale(0.963,0.678)" font-size="10" font-weight="bold" fill="#1e2a9a">C</text>
<text transform="translate(562.96,431.30) scale(1.239,1.483)" font-size="10" font-weight="bold" fill="#b83a3a">T</text>
<text transform="translate(563.09,433.67) scale(0.994,0.339)" font-size="10" font-weight="bold" fill="#1e2a9a">C</text>
<text transform="translate(569.99,433.23) scale(1.007,4.718)" font-size="10" font-weight="bold" fill="#eaa632">G</text>
<text transform="translate(576.79,429.65) scale(1.007,2.472)" font-size="10" font-weight="bold" fill="#eaa632">G</text>
<text transform="translate(577.27,433.70) scale(0.924,0.552)" font-size="10" font-weight="bold" fill="#7cb84a">A</text>
<text transform="translate(584.08,433.59) scale(1.024,1.088)" font-size="10" font-weight="bold" fill="#1e2a9a">C</text>
<text x="489.8" y="441.5" font-size="3" text-anchor="middle" fill="#777">1</text>
<text x="496.7" y="441.5" font-size="3" text-anchor="middle" fill="#777">2</text>
<text x="503.6" y="441.5" font-size="3" text-anchor="middle" fill="#777">3</text>
<text x="510.6" y="441.5" font-size="3" text-anchor="middle" fill="#777">4</text>
<text x="517.5" y="441.5" font-size="3" text-anchor="middle" fill="#777">5</text>
<text x="524.4" y="441.5" font-size="3" text-anchor="middle" fill="#777">6</text>
<text x="531.3" y="441.5" font-size="3" text-anchor="middle" fill="#777">7</text>
<text x="538.2" y="441.5" font-size="3" text-anchor="middle" fill="#777">8</text>
<text x="545.2" y="441.5" font-size="3" text-anchor="middle" fill="#777">9</text>
<text x="552.1" y="441.5" font-size="3" text-anchor="middle" fill="#777">10</text>
<text x="559.0" y="441.5" font-size="3" text-anchor="middle" fill="#777">11</text>
<text x="565.9" y="441.5" font-size="3" text-anchor="middle" fill="#777">12</text>
<text x="572.8" y="441.5" font-size="3" text-anchor="middle" fill="#777">13</text>
<text x="579.8" y="441.5" font-size="3" text-anchor="middle" fill="#777">14</text>
<text x="586.7" y="441.5" font-size="3" text-anchor="middle" fill="#777">15</text>
<rect x="736" y="394.5" width="34.5" height="4.9" fill="#4aa9a3"/>
<rect x="736" y="406.8" width="34.0" height="4.7" fill="#4aa9a3"/>
<rect x="736" y="418.9" width="33.0" height="5.3" fill="#4aa9a3"/>
<rect x="736" y="431.2" width="31.5" height="5.1" fill="#4aa9a3"/>
<path d="M735.6,391.4 V439.7 H789" stroke="#aaa" stroke-width="0.8" fill="none"/>
<path d="M733.5,391.4 H735.6" stroke="#aaa" stroke-width="0.8"/>
<path d="M733.5,403.4 H735.6" stroke="#aaa" stroke-width="0.8"/>
<path d="M733.5,415.5 H735.6" stroke="#aaa" stroke-width="0.8"/>
<path d="M733.5,427.6 H735.6" stroke="#aaa" stroke-width="0.8"/>
<path d="M733.5,439.7 H735.6" stroke="#aaa" stroke-width="0.8"/>
<path d="M735.6,439.7 V441.5" stroke="#aaa" stroke-width="0.8"/>
<path d="M762.2,439.7 V441.5" stroke="#aaa" stroke-width="0.8"/>
<path d="M788.6,439.7 V441.5" stroke="#aaa" stroke-width="0.8"/>
<text x="736.2" y="451.9" font-size="8.3" text-anchor="middle" fill="#222" stroke="#222" stroke-width="0.2">0</text>
<text x="762.4" y="451.9" font-size="8.3" text-anchor="middle" fill="#222" stroke="#222" stroke-width="0.2">1</text>
<text x="788.5" y="451.9" font-size="8.3" text-anchor="middle" fill="#222" stroke="#222" stroke-width="0.2">2</text>
<path d="M298.3,86 H358.2 M345.4,79.9 L358.2,86 L345.4,92.1" stroke="#16204c" stroke-width="2.9" fill="none" stroke-linecap="round" stroke-linejoin="round"/>
<path d="M486.9,88.9 H545.9 M534.0,83.0 L545.9,88.9 L534.0,94.9" stroke="#16204c" stroke-width="2.9" fill="none" stroke-linecap="round" stroke-linejoin="round"/>
<path d="M690.6,89.4 H747.4 M734.5,83.3 L747.4,89.4 L734.5,95.5" stroke="#16204c" stroke-width="2.9" fill="none" stroke-linecap="round" stroke-linejoin="round"/>
<path d="M140.2,240.7 H185.1 M172.4,234.6 L185.1,240.7 L172.4,246.8" stroke="#16204c" stroke-width="2.9" fill="none" stroke-linecap="round" stroke-linejoin="round"/>
<path d="M398.9,254.6 H443.4 M430.8,248.7 L443.4,254.6 L430.8,260.4" stroke="#16204c" stroke-width="2.9" fill="none" stroke-linecap="round" stroke-linejoin="round"/>
<path d="M582.8,258.5 H625.3 M615.0,252.6 L625.3,258.5 L615.0,264.4" stroke="#16204c" stroke-width="2.9" fill="none" stroke-linecap="round" stroke-linejoin="round"/>
<path d="M406.8,394 H451.2 M439.1,388.1 L451.2,394 L439.1,399.9" stroke="#16204c" stroke-width="2.9" fill="none" stroke-linecap="round" stroke-linejoin="round"/>
<path d="M298.5,302.4 V337.1 M290.5,324.5 L298.5,337.1 L306.5,324.5" stroke="#16204c" stroke-width="2.9" fill="none" stroke-linecap="round" stroke-linejoin="round"/>
</svg></body></html>
